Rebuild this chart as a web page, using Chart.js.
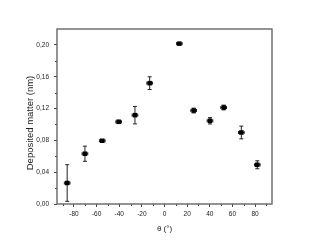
<!DOCTYPE html>
<html>
<head>
<meta charset="utf-8">
<script src="https://cdn.jsdelivr.net/npm/chart.js@4"></script>
<style>
  html, body { margin: 0; padding: 0; background: #fff; }
  canvas { display: block; }
</style>
</head>
<body>
<canvas id="depositChart" width="317" height="245"></canvas>
<script>
// angle of incidence (deg) and deposited matter (nm)
const angles   = [-86, -70.3, -55, -40.5, -26.1, -13.1, 13.1, 25.8, 40.2, 52.3, 67.9, 82];
const deposits = [0.0264, 0.0632, 0.0795, 0.1033, 0.1117, 0.1519, 0.2016, 0.1175, 0.1046, 0.1213, 0.0899, 0.0493];
const depositErr = [0.023, 0.0095, 0.0015, 0.002, 0.011, 0.008, 0.001, 0.003, 0.004, 0.003, 0.008, 0.005];
const angleErr   = [2.5, 2.5, 2.5, 2.5, 2.5, 2.5, 2.5, 2.5, 2.5, 2.5, 2.5, 2.5];

const xTicks = [-80, -60, -40, -20, 0, 20, 40, 60, 80];
const xMinor = [-90, -70, -50, -30, -10, 10, 30, 50, 70, 90];
const yTicks = [0, 0.04, 0.08, 0.12, 0.16, 0.20];
const yMinor = [0.02, 0.06, 0.10, 0.14, 0.18];

const xTitle = "\u03b8 (\u00b0)";
const yTitle = "Deposited matter (nm)";

const points = angles.map((a, i) => ({ x: a, y: deposits[i] }));

const errorBars = {
    id: "errorBars",
    beforeDatasetsDraw(chart) {
        const ctx = chart.ctx;
        const xs = chart.scales.x, ys = chart.scales.y;
        ctx.save();
        ctx.strokeStyle = "#222";
        ctx.lineWidth = 1;
        angles.forEach((a, i) => {
            const px = xs.getPixelForValue(a);
            const py = ys.getPixelForValue(deposits[i]);
            const top = ys.getPixelForValue(deposits[i] + depositErr[i]);
            const bot = ys.getPixelForValue(deposits[i] - depositErr[i]);
            const l = xs.getPixelForValue(a - angleErr[i]);
            const r = xs.getPixelForValue(a + angleErr[i]);
            ctx.beginPath();
            ctx.moveTo(px, top); ctx.lineTo(px, bot);
            ctx.moveTo(px - 2, top); ctx.lineTo(px + 2, top);
            ctx.moveTo(px - 2, bot); ctx.lineTo(px + 2, bot);
            ctx.moveTo(l, py); ctx.lineTo(r, py);
            ctx.moveTo(l, py - 1.5); ctx.lineTo(l, py + 1.5);
            ctx.moveTo(r, py - 1.5); ctx.lineTo(r, py + 1.5);
            ctx.stroke();
        });
        ctx.restore();
    }
};

const frameAndTitles = {
    id: "frameAndTitles",
    afterDraw(chart) {
        const ctx = chart.ctx;
        const area = chart.chartArea;
        const xs = chart.scales.x, ys = chart.scales.y;
        ctx.save();
        // minor ticks
        ctx.strokeStyle = "#444";
        ctx.lineWidth = 1;
        ctx.beginPath();
        xMinor.forEach(v => {
            const px = Math.round(xs.getPixelForValue(v)) + 0.5;
            ctx.moveTo(px, area.bottom);
            ctx.lineTo(px, area.bottom + 2);
        });
        yMinor.forEach(v => {
            const py = Math.round(ys.getPixelForValue(v)) + 0.5;
            ctx.moveTo(area.left, py);
            ctx.lineTo(area.left - 2, py);
        });
        ctx.stroke();
        // frame
        ctx.strokeStyle = "#666";
        ctx.lineWidth = 1.4;
        ctx.strokeRect(area.left, area.top, area.right - area.left, area.bottom - area.top);
        // axis titles
        ctx.fillStyle = "#222";
        ctx.textAlign = "center";
        ctx.textBaseline = "middle";
        ctx.font = "8px 'Liberation Sans'";
        ctx.fillText(xTitle, (area.left + area.right) / 2, 229);
        ctx.translate(30, 123);
        ctx.rotate(-Math.PI / 2);
        ctx.font = "9.5px 'Liberation Sans'";
        ctx.fillText(yTitle, 0, 0);
        ctx.restore();
    }
};

new Chart(document.getElementById("depositChart"), {
    type: "scatter",
    data: {
        datasets: [{
            data: points,
            pointStyle: "rect",
            pointRadius: 3.2,
            pointHoverRadius: 3.2,
            backgroundColor: "#000",
            borderColor: "#000",
            borderWidth: 0
        }]
    },
    options: {
        responsive: false,
        animation: false,
        events: [],
        layout: { padding: { top: 29, right: 45, left: 0, bottom: 0 } },
        plugins: { legend: { display: false }, tooltip: { enabled: false } },
        scales: {
            x: {
                type: "linear",
                min: -95,
                max: 95,
                afterBuildTicks: s => { s.ticks = xTicks.map(v => ({ value: v })); },
                afterFit: s => { s.height = 41; },
                border: { display: false },
                grid: { drawOnChartArea: false, drawTicks: true, tickLength: 3, tickColor: "#444" },
                ticks: {
                    color: "#222",
                    padding: 3,
                    maxRotation: 0,
                    font: { family: "'Liberation Sans'", size: 6.5 }
                }
            },
            y: {
                min: 0,
                max: 0.22,
                afterBuildTicks: s => { s.ticks = yTicks.map(v => ({ value: v })); },
                afterFit: s => { s.width = 57; },
                border: { display: false },
                grid: { drawOnChartArea: false, drawTicks: true, tickLength: 3, tickColor: "#444" },
                ticks: {
                    color: "#222",
                    padding: 5,
                    font: { family: "'Liberation Sans'", size: 6.5 },
                    callback: v => v.toFixed(2).replace(".", ",")
                }
            }
        }
    },
    plugins: [errorBars, frameAndTitles]
});
</script>
</body>
</html>
